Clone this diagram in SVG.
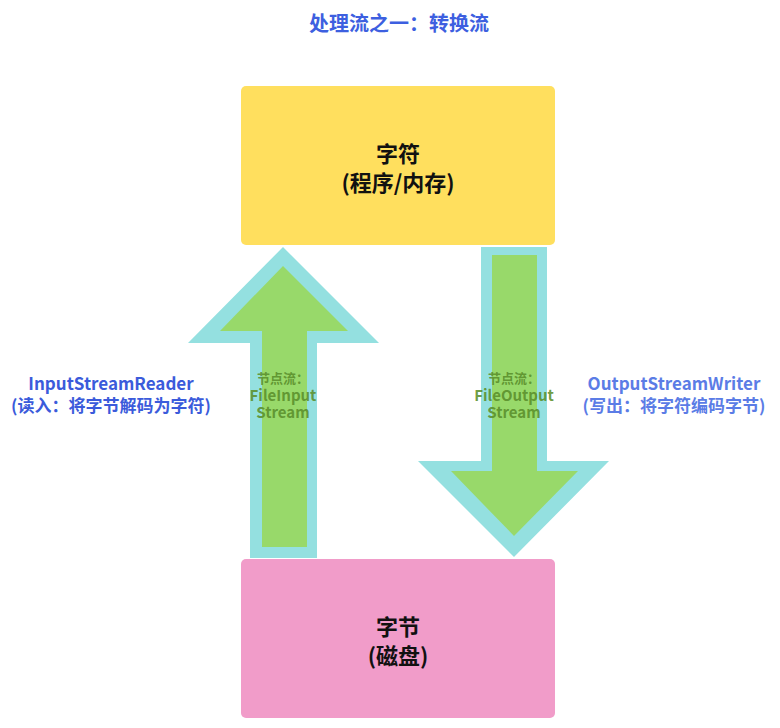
<svg xmlns="http://www.w3.org/2000/svg" width="780" height="728" viewBox="0 0 780 728">
<style>
.cjk{font-family:"Noto Sans CJK SC","Noto Sans",sans-serif;font-weight:bold;text-anchor:middle}
.box{font-size:22px;fill:#111}
.lbl{font-size:17px}
.al{font-size:13px;fill:#5B8F2C;fill-opacity:0.9}
.al2{font-size:15px;fill:#5B8F2C;fill-opacity:0.9}
.outer{fill:#94E0E0}
.inner{fill:#98D96A}
</style>
<rect width="780" height="728" fill="#fff"/>
<text class="cjk" x="399" y="31" font-size="20" fill="#3D5FE0">处理流之一：转换流</text>
<g id="node-char">
<rect x="241" y="86" width="314" height="159" rx="5" fill="#FFDF5E"/>
<text class="cjk box" x="398" y="162">字符</text>
<text class="cjk box" x="398" y="191">(程序/内存)</text>
</g>
<g id="node-byte">
<rect x="241" y="559" width="314" height="159" rx="5" fill="#F19CC9"/>
<text class="cjk box" x="398" y="635">字节</text>
<text class="cjk box" x="398" y="664">(磁盘)</text>
</g>
<g id="connectors">
<g id="arrow-in">
<polygon class="outer" points="283,247 379,343 317,343 317,558 250,558 250,343 188,343"/>
<polygon class="inner" points="283,266 348,331 307,331 307,547 262,547 262,331 220,331"/>
<text class="cjk al" x="283" y="383">节点流：</text>
<text class="cjk al2" x="283" y="401">FileInput</text>
<text class="cjk al2" x="283" y="418">Stream</text>
</g>
<g id="arrow-out">
<polygon class="outer" points="481,247 547,247 547,461 609,461 514,557 418,461 481,461"/>
<polygon class="inner" points="492,255 537,255 537,471 578,471 514,536 451,471 492,471"/>
<text class="cjk al" x="514" y="383">节点流：</text>
<text class="cjk al2" x="514" y="401">FileOutput</text>
<text class="cjk al2" x="514" y="418">Stream</text>
</g>
</g>
<g id="label-in">
<text class="cjk lbl" x="111" y="390" fill="#3B5BDB">InputStreamReader</text>
<text class="cjk lbl" x="111" y="412" fill="#3B5BDB">(读入：将字节解码为字符)</text>
</g>
<g id="label-out">
<text class="cjk lbl" x="674" y="390" fill="#5B7CE6">OutputStreamWriter</text>
<text class="cjk lbl" x="674" y="412" fill="#5B7CE6">(写出：将字符编码字节)</text>
</g>
</svg>
